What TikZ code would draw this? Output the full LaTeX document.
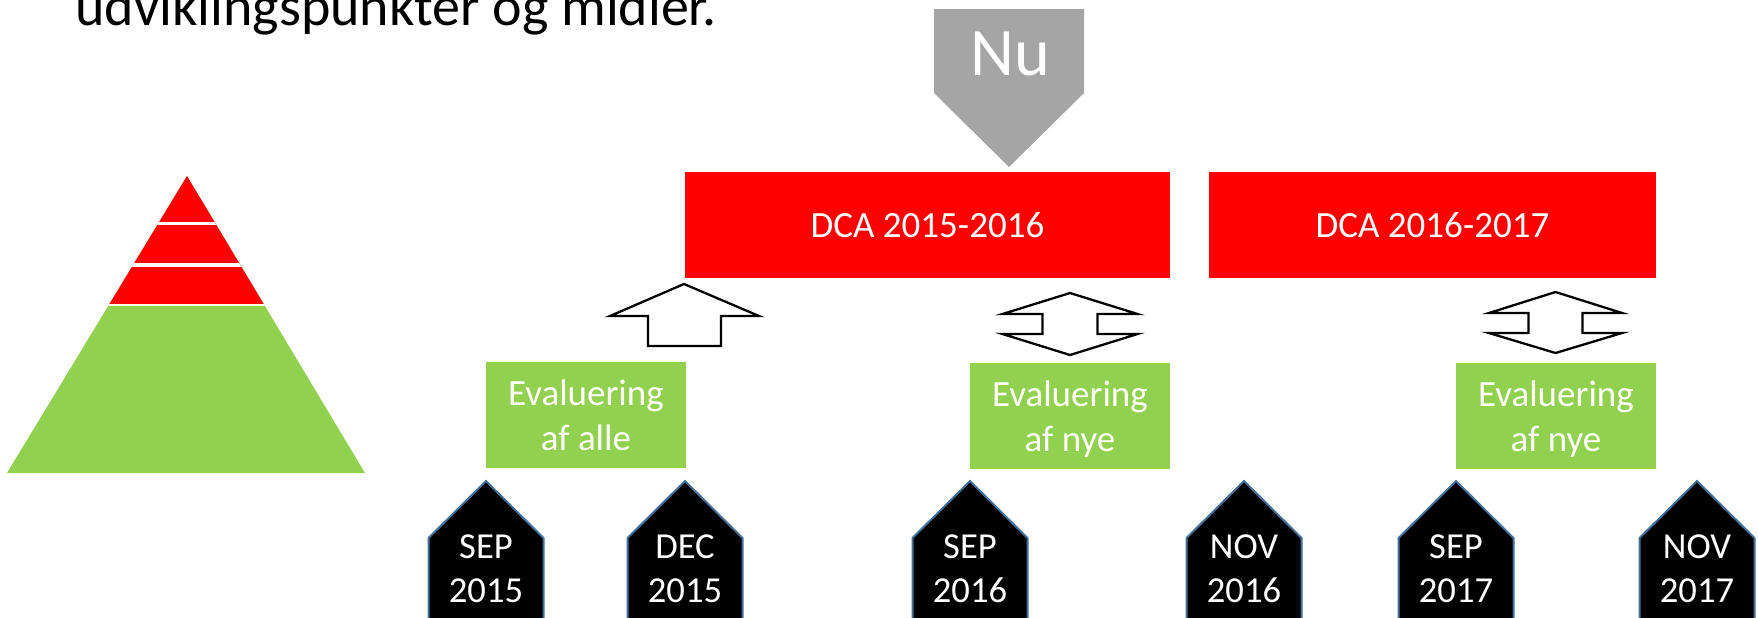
\documentclass[tikz,border=0pt]{standalone}
\usepackage{fontspec}
\setmainfont{Carlito}
\definecolor{pyred}{RGB}{255,0,0}
\definecolor{pygreen}{RGB}{146,208,80}
\definecolor{nugray}{RGB}{165,165,165}
\definecolor{pentblue}{RGB}{65,113,156}
\newcommand\twolines[2]{\begin{tabular}[t]{@{}c@{}}#1\\#2\end{tabular}}
\tikzset{
  redbox/.style={fill=pyred, text=white, minimum height=53pt, inner sep=0pt,
    font=\fontsize{18.5}{22.5}\selectfont},
  greenbox/.style={fill=pygreen, minimum width=100pt, minimum height=53pt, inner sep=0pt},
  evtext/.style={text=white, anchor=base, inner sep=0pt, font=\fontsize{18.5}{22.5}\selectfont},
  tagshape/.style={fill=black, draw=pentblue, line width=1pt},
  tagtext/.style={text=white, anchor=base, inner sep=0pt, font=\fontsize{18.3}{22}\selectfont},
  blockarrow/.style={fill=white, draw=black, line width=1.15pt, miter limit=10},
}
\begin{document}
\begin{tikzpicture}[x=0.5pt,y=-0.5pt]
\useasboundingbox (0,0) rectangle (1758,617);
\clip (0,0) rectangle (1758,617);
% title (cut off at the top edge, as in the reference)
\node[anchor=base west, inner sep=0pt, font=\fontsize{28}{34}\selectfont] (title) at (75,25) {udviklingspunkter og midler.};
% pyramid
\begin{scope}
  \clip (187,176) -- (365,473) -- (7,473) -- cycle;
  \fill[pygreen] (0,170) rectangle (400,480);
  \fill[pyred] (0,170) rectangle (400,305);
  \draw[white, line width=1.7pt] (0,223.4) -- (400,223.4) (0,265) -- (400,265);
  \draw[white, line width=1pt] (0,305) -- (400,305);
\end{scope}
% Nu
\fill[nugray] (934,9) -- (1084,9) -- (1084,93) -- (1009,167) -- (934,93) -- cycle;
\node[anchor=base, text=white, inner sep=0pt, font=\fontsize{34}{40}\selectfont] (nu) at (1010,75) {Nu};
% red boxes
\node[redbox, minimum width=242.5pt] (dca1) at (927.5,225) {DCA 2015-2016};
\node[redbox, minimum width=223.5pt] (dca2) at (1432.5,225) {DCA 2016-2017};
% green boxes
\node[greenbox] (ev1) at (586,415) {};
\node[evtext] (ev1t) at (586,405) {\twolines{Evaluering}{af alle}};
\node[greenbox] (ev2) at (1070,416) {};
\node[evtext] (ev2t) at (1070,406) {\twolines{Evaluering}{af nye}};
\node[greenbox] (ev3) at (1556,416) {};
\node[evtext] (ev3t) at (1556,406) {\twolines{Evaluering}{af nye}};
% block arrows
\filldraw[blockarrow] (684,284) -- (759,316) -- (721,316) -- (721,346) -- (648,346) -- (648,316) -- (610,316) -- cycle;
\filldraw[blockarrow] (1070,293) -- (1137.5,314) -- (1097.5,314) -- (1097.5,334) -- (1137.5,334) -- (1070,355) -- (1002.5,334) -- (1042.5,334) -- (1042.5,314) -- (1002.5,314) -- cycle;
\filldraw[blockarrow] (1555.5,292) -- (1622,313) -- (1582.5,313) -- (1582.5,333) -- (1622,333) -- (1555.5,353) -- (1489,333) -- (1528.5,333) -- (1528.5,313) -- (1489,313) -- cycle;
% date tags
\foreach \cx/\m/\yr/\nm in {486/SEP/2015/t1, 685/DEC/2015/t2, 970/SEP/2016/t3, 1244/NOV/2016/t4, 1456/SEP/2017/t5, 1697/NOV/2017/t6} {
  \filldraw[tagshape] ({\cx-57.5},640) -- ({\cx-57.5},538) -- (\cx,481) -- ({\cx+57.5},538) -- ({\cx+57.5},640) -- cycle;
  \node[tagtext] (\nm) at (\cx,558) {\twolines{\m}{\yr}};
}
\end{tikzpicture}
\end{document}
